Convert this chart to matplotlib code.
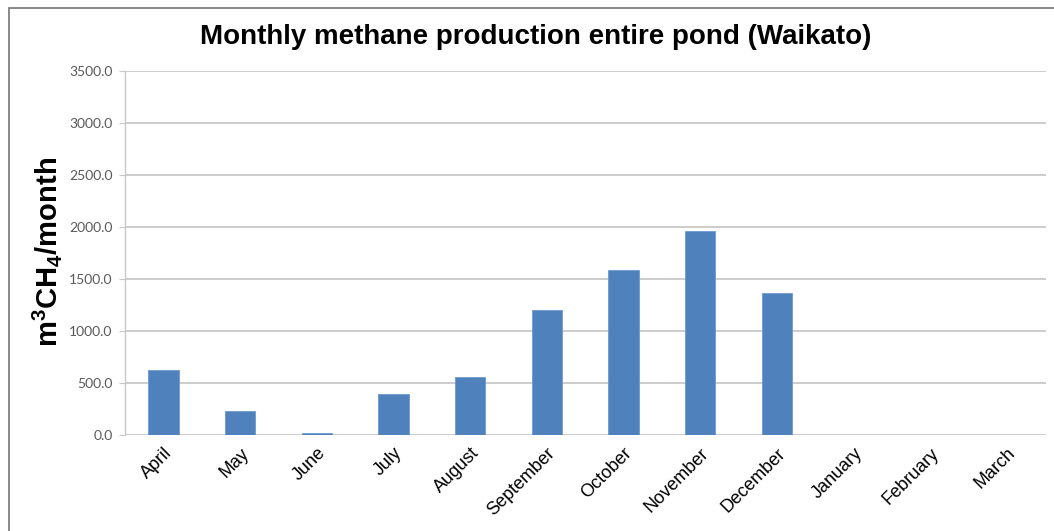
import matplotlib
matplotlib.use("Agg")
import matplotlib.pyplot as plt
from matplotlib.patches import Rectangle
from matplotlib.transforms import ScaledTranslation
import numpy as np

months = ["April", "May", "June", "July", "August", "September", "October",
          "November", "December", "January", "February", "March"]
methane = [628, 228, 15, 397, 558, 1202, 1589, 1961, 1362, 0, 0, 0]
y_ticks = [0, 500, 1000, 1500, 2000, 2500, 3000, 3500]

plt.rcParams["mathtext.fontset"] = "custom"
plt.rcParams["mathtext.rm"] = "Liberation Sans"
plt.rcParams["mathtext.bf"] = "Liberation Sans:bold"

fig = plt.figure(figsize=(10.54, 5.31), dpi=100)
fig.patch.set_facecolor("white")

# outer chart frame (left and top edges visible)
fig.patches.append(Rectangle((8.5 / 1054, -0.1), 1.2, 1 - 7.5 / 531 + 0.1,
                             transform=fig.transFigure, fill=False,
                             edgecolor="#808080", linewidth=1.3, zorder=0))

ax = fig.add_axes([125 / 1054, 1 - 435 / 531, (1045.5 - 125) / 1054, (435 - 71) / 531])
x = np.arange(len(months))
ax.bar(x, methane, width=0.395, color="#4f81bd", edgecolor="#6f9ad0",
       linewidth=0.6, zorder=3)

ax.set_xlim(-0.5, len(months) - 0.5)
ax.set_ylim(0, 3500)
ax.set_yticks(y_ticks)
ax.set_yticklabels([f"{v:.1f}" for v in y_ticks], fontfamily="Lato",
                   fontsize=10, color="#595959")
ax.set_xticks(x)
ax.set_xticklabels(months, rotation=45, ha="right", va="top",
                   rotation_mode="anchor", fontfamily="Liberation Sans",
                   fontsize=13, color="#000000")
shift = ScaledTranslation(-4 / 100, 0, fig.dpi_scale_trans)
for lbl in ax.get_xticklabels():
    lbl.set_transform(lbl.get_transform() + shift)
ax.tick_params(axis="x", length=0, pad=7)
ax.tick_params(axis="y", length=4, color="#c8c8c8", pad=5)

ax.grid(axis="y", color="#c8c8c8", linewidth=1.3, zorder=0)
ax.set_axisbelow(True)
for side in ["top", "right", "bottom"]:
    ax.spines[side].set_visible(False)
ax.spines["left"].set_color("#c8c8c8")
ax.spines["left"].set_linewidth(1.0)

fig.text(535.5 / 1054, 1 - 37 / 531, "Monthly methane production entire pond (Waikato)",
         ha="center", va="center", fontfamily="Liberation Sans",
         fontweight="bold", fontsize=20)
fig.text(47 / 1054, 1 - 252 / 531, r"$\mathbf{m^3CH_4/month}$",
         rotation=90, ha="center", va="center", fontsize=21)

fig.savefig("out.png", dpi=100, facecolor="white")
